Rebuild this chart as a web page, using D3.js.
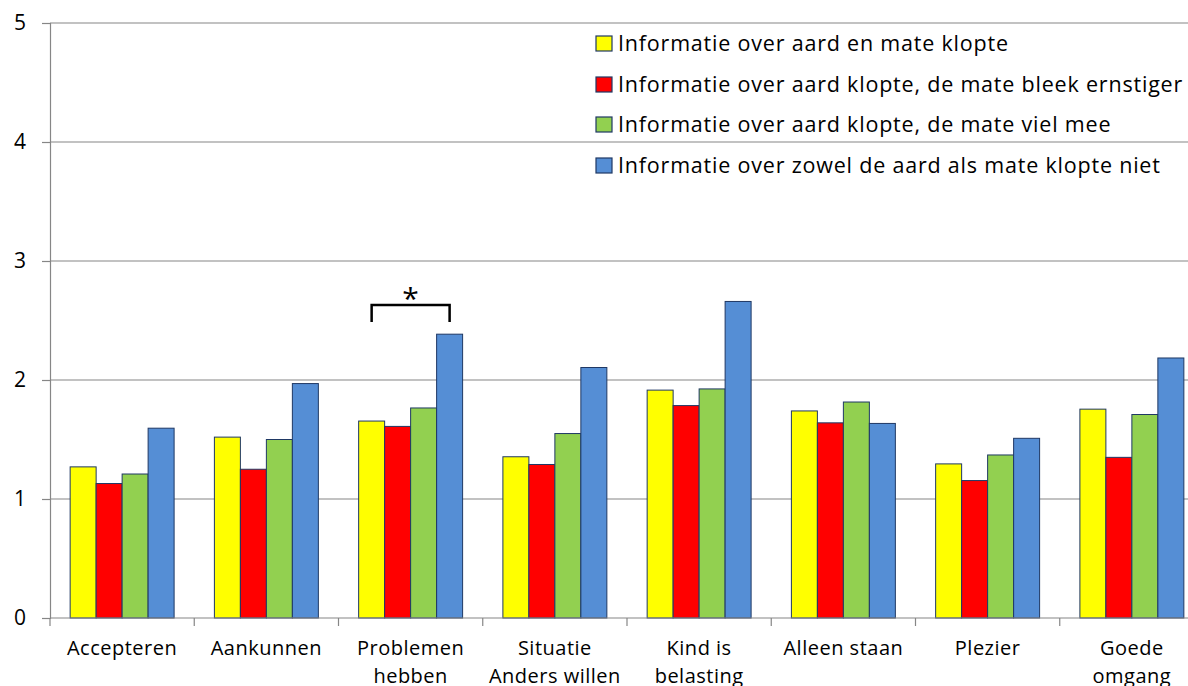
<!DOCTYPE html>
<html><head><meta charset="utf-8">
<script src="https://cdn.jsdelivr.net/npm/d3@7"></script>
<style>body{margin:0;background:#fff}svg{display:block}text{font-family:"Open Sans",Lato,sans-serif;fill:#000}</style>
</head><body>
<svg id="c" width="1188" height="686"></svg>
<script>
const categories = [["Accepteren"],["Aankunnen"],["Problemen","hebben"],["Situatie","Anders willen"],["Kind is","belasting"],["Alleen staan"],["Plezier"],["Goede","omgang"]];
const seriesNames = ["Informatie over aard en mate klopte","Informatie over aard klopte, de mate bleek ernstiger","Informatie over aard klopte, de mate viel mee","Informatie over zowel de aard als mate klopte niet"];
const seriesColors = ["#FFFF00","#FF0000","#92D050","#558ED5"];
const yellowVals = [1.27,1.52,1.655,1.355,1.915,1.74,1.295,1.755];
const redVals    = [1.13,1.25,1.61,1.29,1.785,1.64,1.155,1.35];
const greenVals  = [1.21,1.50,1.765,1.55,1.925,1.815,1.37,1.71];
const blueVals   = [1.595,1.97,2.385,2.105,2.66,1.635,1.51,2.185];
const yTicks = [0,1,2,3,4,5];
const series = [yellowVals, redVals, greenVals, blueVals];

const svg = d3.select("#c");
const x0 = d3.scaleBand().domain(d3.range(categories.length)).range([50, 1204]).paddingInner(0).paddingOuter(0);
const x1 = d3.scaleBand().domain(d3.range(4)).range([0, x0.bandwidth()]).paddingOuter(0.775).paddingInner(0);
const y = d3.scaleLinear().domain([0,5]).range([618, 23]);

// gridlines
svg.append("g").selectAll("line").data(yTicks.filter(d=>d>0)).join("line")
  .attr("x1",50).attr("x2",1188).attr("y1",d=>y(d)).attr("y2",d=>y(d))
  .attr("stroke","#868686").attr("stroke-width",1.2);

// y axis
const ya = svg.append("g").attr("transform","translate(50,0)")
  .call(d3.axisLeft(y).tickValues(yTicks).tickSize(8).tickPadding(16).tickFormat(d3.format("d")));
ya.select(".domain").attr("stroke","#868686").attr("stroke-width",1.2);
ya.selectAll(".tick line").attr("stroke","#868686").attr("stroke-width",1.2);
ya.selectAll("text").attr("font-size",21).style("font-family","'Open Sans',sans-serif");

// bars
const g = svg.append("g");
series.forEach((vals, si) => {
  g.append("g").selectAll("rect").data(vals).join("rect")
    .attr("x",(d,i)=>x0(i)+x1(si)).attr("width",x1.bandwidth())
    .attr("y",d=>y(d)).attr("height",d=>y(0)-y(d))
    .attr("fill",seriesColors[si]).attr("stroke","#1F3864").attr("stroke-width",1);
});

// x axis
svg.append("line").attr("x1",50).attr("x2",1188).attr("y1",y(0)).attr("y2",y(0)).attr("stroke","#868686").attr("stroke-width",1.2);
svg.append("g").selectAll("line").data(d3.range(categories.length)).join("line")
  .attr("x1",d=>x0(d)).attr("x2",d=>x0(d)).attr("y1",y(0)).attr("y2",y(0)+8)
  .attr("stroke","#868686").attr("stroke-width",1.2);
const lab = svg.append("g").selectAll("text").data(categories).join("text")
  .attr("x",(d,i)=>x0(i)+x0.bandwidth()/2).attr("y",655)
  .attr("text-anchor","middle").attr("font-size",20).attr("letter-spacing",0.5);
lab.selectAll("tspan").data(d=>d).join("tspan")
  .attr("x",function(){return this.parentNode.getAttribute("x");})
  .attr("dy",(d,i)=>i?28:0).text(d=>d);

// significance bracket
const bi = 2;
const bx1 = x0(bi)+x1(0)+x1.bandwidth()/2, bx2 = x0(bi)+x1(3)+x1.bandwidth()/2;
const by = 305;
svg.append("path").attr("d",`M${bx1},${by+17}V${by}H${bx2}V${by+17}`)
  .attr("fill","none").attr("stroke","#000").attr("stroke-width",2.5);
svg.append("text").attr("x",(bx1+bx2)/2).attr("y",by+4).attr("text-anchor","middle").attr("font-size",30).text("*");

// legend
const lg = svg.append("g").attr("transform","translate(596,0)");
const rows = lg.selectAll("g").data(seriesNames).join("g").attr("transform",(d,i)=>`translate(0,${[51,92,132,173][i]})`);
rows.append("rect").attr("x",0).attr("y",-15).attr("width",16).attr("height",15)
  .attr("fill",(d,i)=>seriesColors[i]).attr("stroke","#1F3864").attr("stroke-width",1.2);
rows.append("text").attr("x",22).attr("y",0).attr("font-size",21.5).attr("letter-spacing",0.8).text(d=>d);
</script>
</body></html>
